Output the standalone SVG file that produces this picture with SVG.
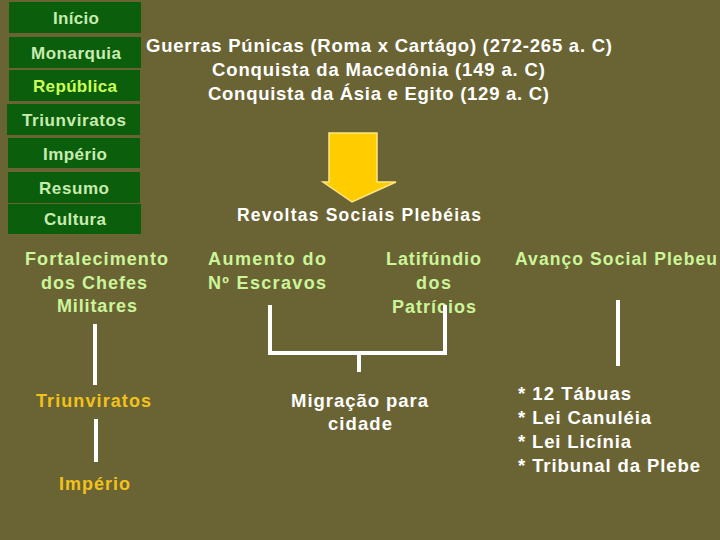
<svg xmlns="http://www.w3.org/2000/svg" width="720" height="540" viewBox="0 0 720 540">
<style>
text{font-family:"Liberation Sans",Arial,sans-serif;font-weight:bold}
.btn{fill:#0b5e0b}
.bt{fill:#c8ecb0;font-size:17px}
.g{fill:#ccf59a;font-size:18px}
.w{fill:#ffffff;font-size:18.5px}
.y{fill:#f2c21c;font-size:18px}
.ln{stroke:#ffffff;stroke-width:4;fill:none}
</style>
<rect width="720" height="540" fill="#6a6434"/>
<g id="menu">
<g id="btn-inicio"><rect class="btn" x="9" y="2" width="132" height="31"/><text class="bt" x="53" y="24" textLength="46">Início</text></g>
<g id="btn-monarquia"><rect class="btn" x="9" y="37" width="132" height="31"/><text class="bt" x="31" y="59" textLength="90">Monarquia</text></g>
<g id="btn-republica"><rect class="btn" x="9" y="70" width="131" height="31"/><text class="bt" x="33" y="92" textLength="84" style="fill:#ccff55">República</text></g>
<g id="btn-triunviratos"><rect class="btn" x="7" y="104" width="133" height="31"/><text class="bt" x="22" y="126" textLength="104">Triunviratos</text></g>
<g id="btn-imperio"><rect class="btn" x="8" y="138" width="132" height="30"/><text class="bt" x="43" y="160" textLength="64">Império</text></g>
<g id="btn-resumo"><rect class="btn" x="8" y="172" width="132" height="31"/><text class="bt" x="39" y="194" textLength="70">Resumo</text></g>
<g id="btn-cultura"><rect class="btn" x="8" y="204" width="133" height="30"/><text class="bt" x="44" y="225" textLength="62">Cultura</text></g>
</g>
<g id="guerras"><text class="w" x="146" y="52" textLength="466">Guerras Púnicas (Roma x Cartágo) (272-265 a. C)</text>
<text class="w" x="212" y="76" textLength="333">Conquista da Macedônia (149 a. C)</text>
<text class="w" x="208" y="100" textLength="341">Conquista da Ásia e Egito (129 a. C)</text></g>
<g id="arrow"><polygon points="329,133 377,133 377,182 396,182 352,202 323,182 329,182" fill="#ffcc00" stroke="#ffe680" stroke-width="1.5"/></g>
<g id="revoltas"><text class="w" x="237" y="221" textLength="244" style="font-size:17.5px">Revoltas Sociais Plebéias</text></g>
<g id="fortalecimento"><text class="g" x="25" y="265" textLength="143">Fortalecimento</text><text class="g" x="41" y="289" textLength="106">dos Chefes</text><text class="g" x="57" y="312" textLength="80">Militares</text></g>
<g id="triunviratos"><text class="y" x="36" y="407" textLength="115">Triunviratos</text></g>
<g id="imperio"><text class="y" x="59" y="490" textLength="71">Império</text></g>
<g id="aumento"><text class="g" x="208" y="265" textLength="118">Aumento do</text><text class="g" x="208" y="289" textLength="118">Nº Escravos</text></g>
<g id="latifundio"><text class="g" x="386" y="265" textLength="95">Latifúndio</text><text class="g" x="416" y="289" textLength="35">dos</text><text class="g" x="392" y="313" textLength="84">Patrícios</text></g>
<g id="avanco"><text class="g" x="515" y="265" textLength="202" style="font-size:17.5px">Avanço Social Plebeu</text></g>
<g id="migracao"><text class="w" x="291" y="407" textLength="137">Migração para</text><text class="w" x="328" y="430" textLength="64">cidade</text></g>
<g id="leis"><text class="w" x="518" y="400" textLength="113">* 12 Tábuas</text><text class="w" x="518" y="424" textLength="133">* Lei Canuléia</text><text class="w" x="518" y="448" textLength="113">* Lei Licínia</text><text class="w" x="518" y="472" textLength="182">* Tribunal da Plebe</text></g>
<g id="connectors">
<line class="ln" x1="95" y1="324" x2="95" y2="385"/>
<line class="ln" x1="96" y1="419" x2="96" y2="462"/>
<polyline class="ln" points="270,305 270,353 445,353 445,305"/>
<line class="ln" x1="359" y1="353" x2="359" y2="372"/>
<line class="ln" x1="618" y1="300" x2="618" y2="366"/>
</g>
</svg>
